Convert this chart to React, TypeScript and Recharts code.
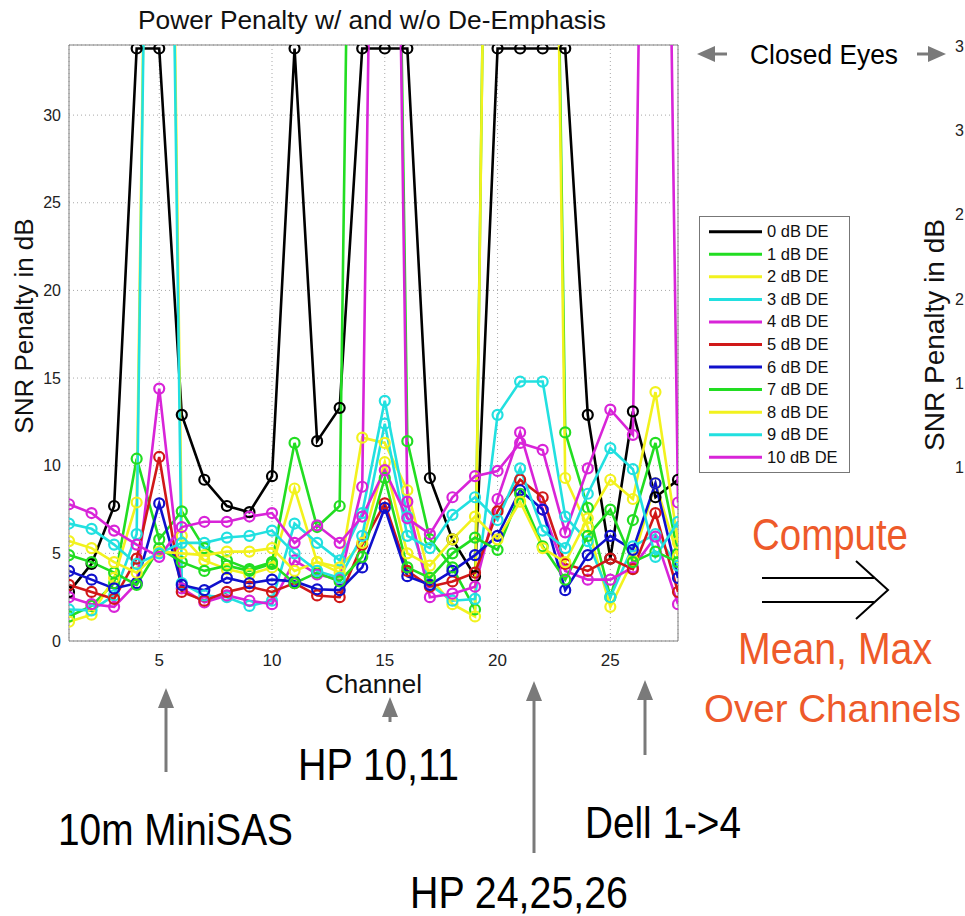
import React from 'react'
import {
  LineChart, Line, XAxis, YAxis, CartesianGrid, ReferenceLine
} from 'recharts'

const OFF = 100 // closed eye, drawn off the top of the axes
const CLOSED = 33.8 // closed eye marker for 0 dB

const channels = [1, 2, 3, 4, 5, 6, 7, 8, 9, 10, 11, 12, 13, 14, 15, 16, 17, 18, 19, 20, 21, 22, 23, 24, 25, 26, 27, 28]
const xTicks = [5, 10, 15, 20, 25]
const yTicks = [0, 5, 10, 15, 20, 25, 30]
const rightCutTicks = ['3', '3', '2', '2', '1', '1']

const de0 = [2.8, 4.4, 7.7, CLOSED, CLOSED, 12.9, 9.2, 7.7, 7.35, 9.4, CLOSED, 11.4, 13.3, CLOSED, CLOSED, CLOSED, 9.3, 5.8, 3.7, CLOSED, CLOSED, CLOSED, CLOSED, 12.9, 4.7, 13.1, 8.2, 9.2]
const de1 = [1.4, 2.0, 3.3, 10.4, 5.8, 7.4, 5.3, 4.6, 4.1, 4.5, 11.3, 6.5, 7.7, OFF, OFF, 11.4, 5.8, 4.2, 1.8, OFF, OFF, OFF, 11.9, 7.6, 2.5, 6.9, 11.3, 5.0]
const de2 = [1.1, 1.5, 3.6, 7.9, OFF, 6.0, 4.6, 4.1, 3.8, 4.2, 8.7, 4.5, 3.9, 11.6, 11.3, 8.6, 3.6, 2.1, 1.4, OFF, OFF, OFF, 9.3, 6.5, 1.95, 4.6, 9.0, 4.8]
const de3 = [1.8, 1.75, 2.6, 6.1, OFF, 3.3, 2.6, 2.5, 2.0, 2.3, 6.7, 5.6, 4.6, 7.3, 13.7, 7.1, 3.2, 2.3, 2.4, 12.9, 14.8, 14.8, 7.1, 5.7, 2.5, 5.4, 6.1, 4.3]
const de4 = [2.5, 2.1, 1.95, 3.3, 14.4, 3.0, 2.2, 2.6, 2.3, 2.1, 4.6, 3.8, 3.5, 8.8, OFF, 7.95, 2.5, 2.7, 3.1, 8.1, 11.9, 7.5, 4.0, 3.5, 3.5, 4.2, 5.95, 2.1]
const de5 = [3.2, 2.8, 2.4, 4.7, 10.5, 2.8, 2.3, 2.8, 3.1, 2.8, 3.3, 2.6, 2.5, 5.5, 7.85, 4.0, 3.1, 3.4, 3.9, 7.4, 9.2, 8.2, 4.4, 4.0, 4.7, 4.1, 7.3, 2.8]
const de6 = [4.0, 3.5, 3.0, 3.3, 7.85, 3.2, 2.9, 3.6, 3.3, 3.5, 3.4, 2.95, 2.9, 4.2, 7.6, 3.7, 3.2, 4.0, 4.9, 6.0, 8.6, 7.5, 2.9, 4.9, 6.0, 5.2, 9.0, 3.6]
const de7 = [4.9, 4.5, 3.9, 3.2, 5.3, 4.5, 4.0, 4.3, 4.0, 4.4, 3.3, 3.9, 3.4, 4.8, 9.3, 4.2, 3.6, 5.0, 5.9, 5.2, 8.4, 5.4, 3.5, 6.0, 7.5, 4.5, 5.1, 4.5]
const de8 = [5.7, 5.3, 4.5, 3.9, 5.1, 5.0, 4.9, 5.1, 5.1, 5.3, 4.0, 4.5, 4.2, 5.6, 10.2, 5.0, 4.3, 5.8, 7.1, 5.8, 7.95, 5.3, 4.5, 7.0, 9.2, 8.1, 14.2, 5.6]
const de9 = [6.7, 6.4, 5.5, 4.4, 5.0, 5.6, 5.6, 5.9, 6.0, 6.3, 5.0, 4.0, 3.6, 6.0, 12.4, 6.0, 5.3, 7.2, 8.2, 6.9, 9.85, 6.3, 5.3, 8.4, 11.0, 9.8, 4.8, 6.8]
const de10 = [7.8, 7.3, 6.3, 5.5, 4.8, 6.5, 6.8, 6.8, 7.1, 7.3, 5.6, 6.6, 5.6, 7.1, 9.75, 7.0, 6.1, 8.2, 9.4, 9.7, 11.3, 10.9, 6.2, 9.85, 13.2, 11.76, OFF, 7.9]

const seriesValues = [de0, de1, de2, de3, de4, de5, de6, de7, de8, de9, de10]
const seriesNames = ['0 dB DE', '1 dB DE', '2 dB DE', '3 dB DE', '4 dB DE', '5 dB DE', '6 dB DE', '7 dB DE', '8 dB DE', '9 dB DE', '10 dB DE']
const seriesColors = ['#000000', '#22dd22', '#f2f21e', '#22e0e0', '#d824d8', '#d01818', '#1010cc', '#22dd22', '#f2f21e', '#22e0e0', '#d824d8']

const data = channels.map((ch, i) => {
  const row: Record<string, number> = { channel: ch }
  seriesValues.forEach((vals, s) => { row['de' + s] = vals[i] })
  return row
})

const FONT = '"Liberation Sans", Arial, sans-serif'
const NARROW = '"Liberation Sans Narrow", "Liberation Sans", Arial, sans-serif'
const ORANGE = '#ee5a2a'
const ARROW_GRAY = '#7a7a7a'

const LegendBox = () => (
  <svg width={151} height={258} style={{ position: 'absolute', left: 699, top: 216 }}>
    <rect x={0.5} y={0.5} width={150} height={256} fill="#fff" stroke="#777" />
    {seriesNames.map((name, i) => {
      const y = 15.7 + i * 22.56
      return (
        <g key={name}>
          <line x1={10} x2={63} y1={y} y2={y} stroke={seriesColors[i]} strokeWidth={3} />
          <text x={68} y={y + 5.5} fontSize={16.5} fontFamily={FONT} fill="#111">{name}</text>
        </g>
      )
    })}
  </svg>
)

const UpArrow = ({ x, tip, tail }: { x: number; tip: number; tail: number }) => (
  <g>
    <line x1={x} x2={x} y1={tip + 16} y2={tail} stroke={ARROW_GRAY} strokeWidth={3} />
    <polygon points={`${x},${tip} ${x - 8},${tip + 20} ${x + 8},${tip + 20}`} fill={ARROW_GRAY} />
  </g>
)

const Annotations = () => (
  <svg width={965} height={916} style={{ position: 'absolute', left: 0, top: 0, pointerEvents: 'none' }}>
    {/* left axis title */}
    <text x={0} y={0} fontSize={26} fontFamily={FONT} fill="#111" textAnchor="middle"
      transform="translate(33,326) rotate(-90)">SNR Penalty in dB</text>

    {/* closed eyes marker */}
    <polygon points="697,54 715,46 715,62" fill={ARROW_GRAY} />
    <line x1={713} x2={727} y1={54} y2={54} stroke={ARROW_GRAY} strokeWidth={3} />
    <text x={750} y={64} fontSize={28} fontFamily={NARROW} textLength={148} lengthAdjust="spacingAndGlyphs" fill="#000">Closed Eyes</text>
    <line x1={917} x2={931} y1={54} y2={54} stroke={ARROW_GRAY} strokeWidth={3} />
    <polygon points="946,54 928,46 928,62" fill={ARROW_GRAY} />

    {/* second chart, cut off at the right edge */}
    {rightCutTicks.map((t, i) => (
      <text key={i} x={955} y={52 + i * 84.2} fontSize={16} fontFamily={FONT} fill="#222">{t}</text>
    ))}
    <text x={0} y={0} fontSize={28} fontFamily={FONT} fill="#111" textAnchor="middle"
      transform="translate(944,335) rotate(-90)">SNR Penalty in dB</text>

    {/* compute arrow */}
    <text x={752} y={550} fontSize={44} fontFamily={NARROW} textLength={156} lengthAdjust="spacingAndGlyphs" fill={ORANGE}>Compute</text>
    <line x1={762} x2={874} y1={578} y2={578} stroke="#000" strokeWidth={2} />
    <line x1={762} x2={874} y1={602} y2={602} stroke="#000" strokeWidth={2} />
    <polyline points="856,561 888,590 856,619" fill="none" stroke="#000" strokeWidth={2} />
    <text x={738} y={664} fontSize={44} fontFamily={NARROW} textLength={194} lengthAdjust="spacingAndGlyphs" fill={ORANGE}>Mean, Max</text>
    <text x={704} y={722} fontSize={39} fontFamily={NARROW} textLength={257} lengthAdjust="spacingAndGlyphs" fill={ORANGE}>Over Channels</text>

    {/* channel call-outs */}
    <UpArrow x={166} tip={688} tail={772} />
    <UpArrow x={390} tip={697} tail={722} />
    <UpArrow x={534} tip={681} tail={853} />
    <UpArrow x={645} tip={680} tail={755} />
    <text x={298} y={780} fontSize={44} fontFamily={NARROW} textLength={161} lengthAdjust="spacingAndGlyphs" fill="#000">HP 10,11</text>
    <text x={58} y={845} fontSize={44} fontFamily={NARROW} textLength={235} lengthAdjust="spacingAndGlyphs" fill="#000">10m MiniSAS</text>
    <text x={585} y={838} fontSize={44} fontFamily={NARROW} textLength={156} lengthAdjust="spacingAndGlyphs" fill="#000">Dell 1-&gt;4</text>
    <text x={410} y={908} fontSize={44} fontFamily={NARROW} textLength={218} lengthAdjust="spacingAndGlyphs" fill="#000">HP 24,25,26</text>
  </svg>
)

export default function App() {
  return (
    <div style={{ position: 'relative', width: 965, height: 916, background: '#fff', overflow: 'hidden', fontFamily: FONT }}>
      <style>{'body{margin:0;background:#fff}'}</style>
      <LineChart width={965} height={916} data={data} margin={{ top: 45, right: 287, bottom: 245, left: 0 }}>
        <text x={372} y={29} textAnchor="middle" fontSize={25} fontFamily={FONT} fill="#111"
          textLength={468} lengthAdjust="spacingAndGlyphs">Power Penalty w/ and w/o De-Emphasis</text>
        <CartesianGrid stroke="#a8a8a8" strokeDasharray="1 3" />
        <XAxis
          dataKey="channel"
          type="number"
          domain={[1, 28]}
          ticks={xTicks}
          allowDataOverflow
          height={30}
          tickLine={false}
          tickMargin={7}
          stroke="#808080"
          tick={{ fontSize: 17, fill: '#222', fontFamily: FONT }}
          label={{ value: 'Channel', position: 'insideBottom', offset: -22, fontSize: 26, fill: '#111', fontFamily: FONT }}
        />
        <YAxis
          type="number"
          domain={[0, 34]}
          ticks={yTicks}
          allowDataOverflow
          width={69}
          tickLine={false}
          stroke="#808080"
          tick={{ fontSize: 16, fill: '#222', fontFamily: FONT }}
        />
        <ReferenceLine y={34} stroke="#808080" />
        <ReferenceLine x={28} stroke="#808080" />
        {seriesNames.map((name, s) => (
          <Line
            key={name}
            name={name}
            dataKey={'de' + s}
            type="linear"
            stroke={seriesColors[s]}
            strokeWidth={2.6}
            dot={{ r: 5, stroke: seriesColors[s], strokeWidth: 2.2, fill: 'none' }}
            activeDot={false}
            isAnimationActive={false}
          />
        ))}
      </LineChart>
      <LegendBox />
      <Annotations />
    </div>
  )
}
